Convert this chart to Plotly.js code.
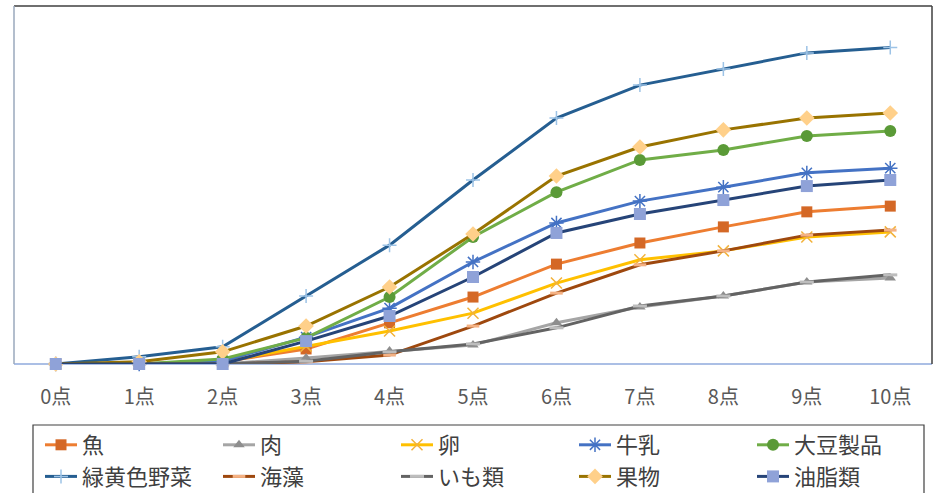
<!DOCTYPE html>
<html>
<head>
<meta charset="utf-8">
<script src="https://cdn.plot.ly/plotly-3.0.1.min.js"></script>
<style>
  html, body { margin: 0; padding: 0; background: #ffffff; }
  #chart { width: 938px; height: 493px; }
</style>
</head>
<body>
<div id="chart"></div>
<script>
// Score categories (x axis)
const scores = ['0点', '1点', '2点', '3点', '4点', '5点', '6点', '7点', '8点', '9点', '10点'];

// Cumulative share for each food group at each score
const fish       = [0, 0, 0.6, 4.2, 11.5, 18.7, 27.9, 33.8, 38.3, 42.5, 44.1];
const meat       = [0, 0, 0, 1.7, 3.6, 5.3, 11.5, 15.9, 19.0, 22.9, 24.0];
const egg        = [0, 0, 0.6, 5.0, 9.2, 14.2, 22.6, 29.1, 31.6, 35.5, 36.9];
const milk       = [0, 0, 0.8, 7.5, 15.6, 28.5, 39.4, 45.5, 49.4, 53.4, 54.7];
const soy        = [0, 0, 1.4, 7.3, 18.7, 35.5, 48.0, 57.0, 59.8, 63.7, 65.1];
const greenVeg   = [0, 2.0, 4.8, 19.0, 33.2, 51.4, 68.7, 77.9, 82.4, 86.9, 88.4];
const seaweed    = [0, 0, 0, 0.6, 2.5, 10.6, 19.8, 27.7, 31.6, 36.0, 37.4];
const potato     = [0, 0, 0, 0.8, 3.4, 5.6, 10.1, 16.2, 19.0, 22.9, 24.9];
const fruit      = [0, 0.6, 3.4, 10.6, 21.5, 36.3, 52.5, 60.6, 65.4, 68.7, 70.1];
const oil        = [0, 0, 0, 6.4, 13.4, 24.3, 36.6, 41.9, 45.8, 49.7, 51.4];

const seriesNames = ['魚', '肉', '卵', '牛乳', '大豆製品', '緑黄色野菜', '海藻', 'いも類', '果物', '油脂類'];
const seriesData  = [fish, meat, egg, milk, soy, greenVeg, seaweed, potato, fruit, oil];

const styles = [
  { line: '#ED7D31', marker: { symbol: 'square', size: 11, color: '#D46826' } },
  { line: '#A5A5A5', marker: { symbol: 'triangle-up', size: 10, color: '#8E8E8E' } },
  { line: '#FFC000', marker: { symbol: 'x-thin-open', size: 11, color: '#F2B23A', line: { width: 1.5, color: '#F2B23A' } } },
  { line: '#4472C4', marker: { symbol: 'asterisk-open', size: 12, color: '#4472C4', line: { width: 1.5, color: '#4472C4' } } },
  { line: '#70AD47', marker: { symbol: 'circle', size: 12, color: '#5A9A37' } },
  { line: '#255E91', marker: { symbol: 'cross-thin-open', size: 10, color: '#9DC3E6', line: { width: 1.5, color: '#9DC3E6' } } },
  { line: '#9E480E', marker: { symbol: 'line-ew-open', size: 9, color: '#F4B183', line: { width: 3, color: '#F4B183' } } },
  { line: '#636363', marker: { symbol: 'line-ew-open', size: 10, color: '#BDBDBD', line: { width: 3, color: '#BDBDBD' } } },
  { line: '#997300', marker: { symbol: 'diamond', size: 12, color: '#FFD08A' } },
  { line: '#264478', marker: { symbol: 'square', size: 12, color: '#8FA2D8' } }
];

const traces = seriesNames.map((name, i) => ({
  type: 'scatter',
  mode: 'lines+markers',
  name: name,
  x: scores,
  y: seriesData[i],
  line: { color: styles[i].line, width: 3 },
  marker: styles[i].marker,
  cliponaxis: false
}));

// plot area in pixels: left 14, right 932, top 6, bottom 364
const plotTop = 6, plotBottom = 364;
const plotH = plotBottom - plotTop;
const toPaperY = (py) => (plotBottom - py) / plotH;

const layout = {
  width: 938,
  height: 493,
  margin: { l: 14, r: 6, t: 6, b: 129 },
  paper_bgcolor: '#ffffff',
  plot_bgcolor: '#ffffff',
  showlegend: true,
  font: { family: '"Noto Sans CJK JP", "Noto Sans", sans-serif', color: '#595959' },
  xaxis: {
    type: 'category',
    range: [-0.5, 10.5],
    showgrid: false,
    zeroline: false,
    showline: false,
    ticks: '',
    ticklabelstandoff: 19,
    tickfont: { size: 20, color: '#595959' },
    fixedrange: true
  },
  yaxis: {
    range: [0, 100],
    visible: false,
    showgrid: false,
    zeroline: false,
    fixedrange: true
  },
  legend: {
    orientation: 'h',
    xref: 'container',
    yref: 'container',
    x: 40 / 938,
    xanchor: 'left',
    y: (493 - 424) / 493,
    yanchor: 'top',
    borderwidth: 0,
    bgcolor: 'rgba(0,0,0,0)',
    entrywidth: 131,
    entrywidthmode: 'pixels',
    itemwidth: 32,
    font: { size: 22, color: '#404040' },
    traceorder: 'normal'
  },
  shapes: [
    // plot-area frame
    { type: 'line', xref: 'paper', yref: 'paper', x0: 0, x1: 1, y0: 1, y1: 1, line: { color: '#3F3F3F', width: 1.5 } },
    { type: 'line', xref: 'paper', yref: 'paper', x0: 1, x1: 1, y0: 0, y1: 1, line: { color: '#3F3F3F', width: 1.5 } },
    { type: 'line', xref: 'paper', yref: 'paper', x0: 0, x1: 0, y0: 0, y1: 1, line: { color: '#9AA9BC', width: 1.5 } },
    { type: 'line', xref: 'paper', yref: 'paper', x0: 0, x1: 1, y0: 0, y1: 0, line: { color: '#8FAADC', width: 1.5 }, layer: 'below' },
    // legend frame
    { type: 'rect', xref: 'paper', yref: 'paper',
      x0: (33 - 14) / 918, x1: (924 - 14) / 918,
      y0: toPaperY(425), y1: toPaperY(505),
      line: { color: '#404040', width: 1.2 }, fillcolor: 'rgba(0,0,0,0)' }
  ]
};

Plotly.newPlot('chart', traces, layout, { displayModeBar: false, staticPlot: true });
</script>
</body>
</html>
